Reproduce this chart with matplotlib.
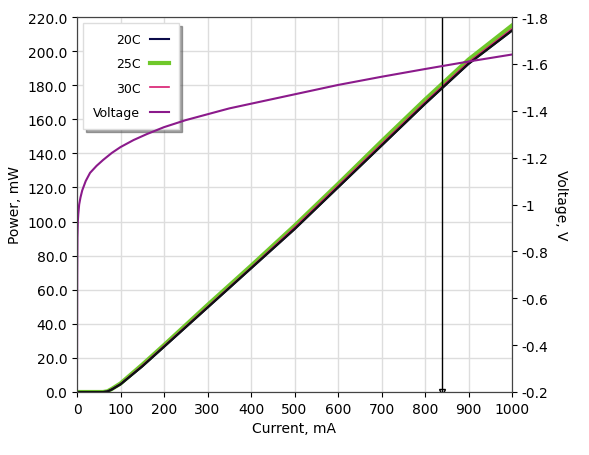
import numpy as np
import matplotlib.pyplot as plt

current = [0, 20, 40, 60, 70, 80, 100, 150, 200, 300, 400, 500, 600, 700, 800, 900, 1000]
p20 = [0, 0, 0, 0, 0.3, 1.5, 4.5, 15, 26.5, 49.5, 72.5, 95.5, 120, 144.5, 169, 192.5, 212]
p25 = [0, 0, 0, 0, 0.4, 1.8, 5, 16, 27.5, 51, 74, 97.5, 122, 147, 171.5, 195, 215]
p30 = [0, 0, 0, 0, 0.3, 1.6, 4.7, 15.5, 27, 50, 73, 96.5, 121, 145.5, 170, 193.5, 213]

v_current = [0, 0.5, 1, 2, 3, 5, 8, 12, 20, 30, 45, 60, 80, 100, 130, 160, 200, 250, 300,
             350, 400, 450, 500, 600, 700, 800, 900, 1000]
voltage = [0.28, 0.7, 0.86, 0.93, 0.96, 1.0, 1.03, 1.06, 1.1, 1.135, 1.165, 1.19, 1.22, 1.245,
           1.275, 1.30, 1.33, 1.36, 1.385, 1.41, 1.43, 1.45, 1.47, 1.51, 1.545, 1.578, 1.61, 1.64]

cursor_x = 840

fig = plt.figure(figsize=(5.89, 4.56), dpi=100)
ax = fig.add_axes([77/589, 63/456, 435/589, 375/456])
ax2 = ax.twinx()

ax.plot(current, p20, color='#0b0b4a', lw=1.5, label='20C')
ax.plot(current, p25, color='#6fc82a', lw=3, label='25C', zorder=1)
ax.plot(current, p30, color='#d81b70', lw=1.2, label='30C', zorder=1)
ax.plot(current, p20, color='#111111', lw=1.5, zorder=3)
ax2.plot(v_current, voltage, color='#8b1a8b', lw=1.5, label='Voltage')
ax.axvline(cursor_x, color='black', lw=1)
ax.plot([cursor_x], [0], marker='v', color='black', ms=4, mfc='none')

ax.set_xlim(0, 1000)
ax.set_ylim(0, 220)
ax2.set_ylim(0.2, 1.8)
ax.set_xticks(range(0, 1001, 100))
ax.set_yticks(np.arange(0, 221, 20))
ax.set_yticklabels([f'{v:.1f}' for v in np.arange(0, 221, 20)])
ax2.set_yticks(np.arange(0.2, 1.81, 0.2))
ax2.set_yticklabels(['-' + f'{v:g}' for v in np.round(np.arange(0.2, 1.81, 0.2), 1)])
ax.grid(color='#dddddd', lw=1)
ax.set_axisbelow(True)
ax.set_xlabel('Current, mA')
ax.set_ylabel('Power, mW')
ax2.set_ylabel('Voltage, V', rotation=270, labelpad=14)
for a in (ax, ax2):
    a.tick_params(labelsize=10)
    for s in a.spines.values():
        s.set_color('#444444')

h1, l1 = ax.get_legend_handles_labels()
h2, l2 = ax2.get_legend_handles_labels()
leg = ax.legend(h1 + h2, l1 + l2, loc='upper left', fontsize=9, frameon=True,
                fancybox=False, shadow=True, markerfirst=False, handlelength=1.5,
                borderpad=0.8, labelspacing=0.9)
leg.get_frame().set_edgecolor('#dddddd')

plt.savefig('out.png', dpi=100)
